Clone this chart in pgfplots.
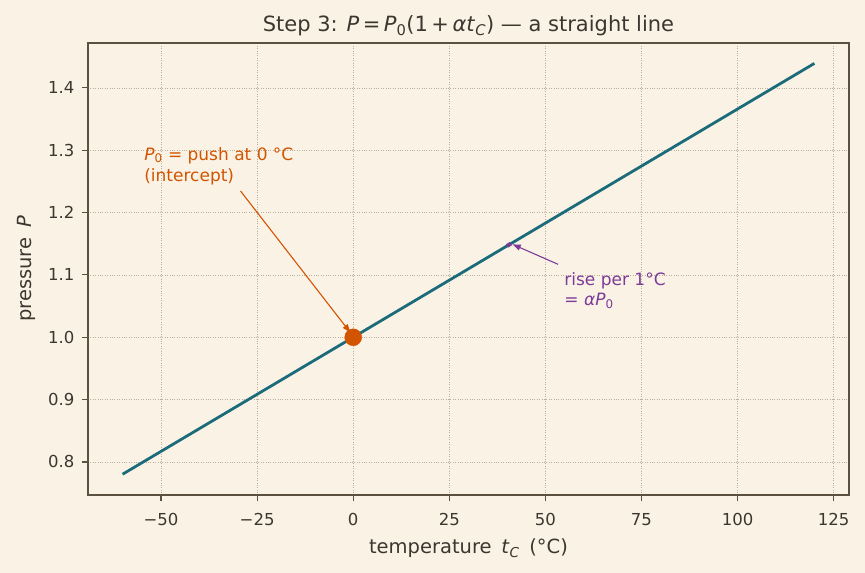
\documentclass[border=0pt]{standalone}
\usepackage{pgfplots}
\pgfplotsset{compat=1.18}
\usepackage{fontspec}
\setmainfont{DejaVu Sans}
\usetikzlibrary{arrows.meta}

\definecolor{bg}{HTML}{FAF3E5}
\definecolor{ink}{HTML}{3B3630}
\definecolor{spine}{HTML}{5C5040}
\definecolor{gridc}{HTML}{B8AF9F}
\definecolor{teal}{HTML}{1B6B7A}
\definecolor{orng}{HTML}{D35400}
\definecolor{purp}{HTML}{7D3C98}

\begin{document}
\begin{tikzpicture}[x=1pt,y=1pt]
\fill[bg] (0,0) rectangle (865,573);
\begin{axis}[
  at={(88pt,78pt)}, anchor=south west,
  width=761pt, height=452pt, scale only axis,
  xmin=-69, xmax=129, ymin=0.747, ymax=1.472,
  axis background/.style={fill=bg},
  axis line style={spine, line width=1.3pt},
  every tick/.style={spine, line width=1.1pt},
  tick align=outside, major tick length=6pt,
  xtick pos=bottom, ytick pos=left,
  xtick={-50,-25,0,25,50,75,100,125},
  xticklabels={−50,−25,0,25,50,75,100,125},
  ytick={0.8,0.9,1.0,1.1,1.2,1.3,1.4},
  yticklabels={0.8,0.9,1.0,1.1,1.2,1.3,1.4},
  tick label style={font=\fontsize{16.5}{19}\selectfont, text=ink},
  xticklabel style={yshift=-9pt},
  yticklabel style={xshift=-4pt},
  grid=major,
  major grid style={gridc, dotted, line width=0.65pt},
  xlabel={temperature\enspace\textit{t}\textsubscript{\textit{C}}\enspace(°C)},
  ylabel={pressure\enspace\textit{P}},
  label style={font=\fontsize{19.5}{23}\selectfont, text=ink},
  xlabel style={at={(axis description cs:0.5,-0.1305)}, anchor=base},
  ylabel style={at={(axis description cs:-0.0742,0.5)}, anchor=base},
  title={Step 3: \textit{P}\,=\,\textit{P}\textsubscript{0}(1\,+\,\textit{αt}\textsubscript{\textit{C}}) — a straight line},
  title style={font=\fontsize{21}{25}\selectfont, text=ink, at={(axis description cs:0.5,1.0122)}, anchor=base},
  clip=false,
]
% P = P0 (1 + alpha t), alpha = 1/273.15
\addplot[teal, line width=2.8pt] coordinates {(-60,0.78034) (120,1.43932)};
% one-degree step
\addplot[purp, line width=4pt] coordinates {(40,1.14644) (41,1.15010)};
% intercept
\addplot[only marks, mark=*, mark size=8.5pt, orng, mark options={draw=orng, fill=orng}] coordinates {(0,1.0)};

\draw[orng, line width=1.1pt, -{Stealth[length=8pt,width=6pt,inset=0pt]}] (axis cs:-29.3,1.2345) -- (axis cs:-0.8,1.008);
\node[anchor=base west, text=orng, font=\fontsize{17}{20}\selectfont, inner sep=0pt]
  at (axis cs:-54.4,1.2843) {\textit{P}\textsubscript{0} = push at 0 °C};
\node[anchor=base west, text=orng, font=\fontsize{17}{20}\selectfont, inner sep=0pt]
  at (axis cs:-54.4,1.2506) {(intercept)};

\draw[purp, line width=1.1pt, -{Stealth[length=8pt,width=6pt,inset=0pt]}] (axis cs:53.3,1.117) -- (axis cs:41.5,1.149);
\node[anchor=base west, text=purp, font=\fontsize{17}{20}\selectfont, inner sep=0pt]
  at (axis cs:54.9,1.0835) {rise per 1°C};
\node[anchor=base west, text=purp, font=\fontsize{17}{20}\selectfont, inner sep=0pt]
  at (axis cs:54.9,1.0514) {= \textit{αP}\textsubscript{0}};
\end{axis}
\end{tikzpicture}
\end{document}
